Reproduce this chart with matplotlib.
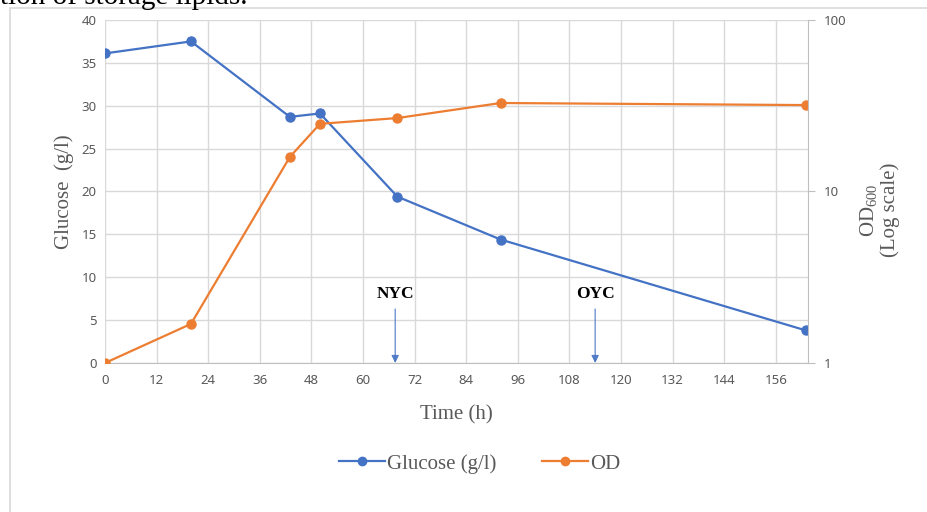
import matplotlib.pyplot as plt
from matplotlib.patches import Rectangle
from matplotlib.lines import Line2D

# data
time_h = [0, 20, 43, 50, 68, 92, 163]
glucose = [36.1, 37.5, 28.7, 29.1, 19.4, 14.4, 3.8]
od600 = [1.0, 1.69, 15.9, 24.8, 26.8, 32.8, 31.9]
x_ticks = list(range(0, 157, 12))
y_ticks = [0, 5, 10, 15, 20, 25, 30, 35, 40]
od_ticks = [1, 10, 100]
events = ["NYC", "OYC"]
event_times = [67.5, 114]

BLUE = '#4472C4'
ORANGE = '#ED7D31'
GRID = '#D9D9D9'
TICK_GRAY = '#595959'
SERIF = 'Liberation Serif'
SANS = 'Noto Sans'

plt.rcParams['mathtext.fontset'] = 'custom'
plt.rcParams['mathtext.rm'] = SERIF
plt.rcParams['mathtext.it'] = SERIF + ':italic'


def setup_axes(fig):
    '''Builds the glucose axes and the log-scale OD twin.'''
    ax = fig.add_axes([0.1131, 0.291, 0.7576, 0.670])
    ax.set_xlim(0, 163.5)
    ax.set_ylim(0, 40)
    ax.set_xticks(x_ticks)
    ax.set_xticks(range(6, 164, 12), minor=True)
    ax.set_yticks(y_ticks)
    ax.grid(True, which='major', color=GRID, lw=1.0)
    ax.grid(True, which='minor', axis='x', color='#E8E8E8', lw=0.9)
    ax.set_axisbelow(True)
    ax.tick_params(axis='both', which='both', length=0, colors=TICK_GRAY,
                   labelsize=9.5, pad=6)
    ax.tick_params(axis='x', pad=8)
    for lbl in ax.get_xticklabels() + ax.get_yticklabels():
        lbl.set_fontfamily(SANS)
    for side in ['top', 'left']:
        ax.spines[side].set_visible(False)
    ax.spines['bottom'].set_color('#BFBFBF')
    ax.spines['right'].set_visible(False)

    ax2 = ax.twinx()
    ax2.set_yscale('log')
    ax2.set_ylim(1, 100)
    ax2.set_yticks(od_ticks)
    ax2.set_yticklabels([str(t) for t in od_ticks])
    ax2.minorticks_off()
    ax2.tick_params(axis='y', length=5, color='#BFBFBF', colors=TICK_GRAY,
                    labelsize=9.5, pad=6)
    for lbl in ax2.get_yticklabels():
        lbl.set_fontfamily(SANS)
    for side in ['top', 'left', 'bottom']:
        ax2.spines[side].set_visible(False)
    ax2.spines['right'].set_color('#BFBFBF')
    return ax, ax2


fig = plt.figure(figsize=(9.28, 5.12), dpi=100)

# frame of the embedded chart and the cut-off caption above it
fig.patches.append(Rectangle((10 / 928, -0.1), 1.0, 0.1 + (512 - 8) / 512,
                             transform=fig.transFigure, fill=False,
                             edgecolor=GRID, lw=1.2))
fig.text(0.0, 1 - 4 / 512, 'tion of storage lipids.', family=SERIF,
         fontsize=21, va='baseline', ha='left', color='black')

ax, ax2 = setup_axes(fig)

ax.plot(time_h, glucose, color=BLUE, lw=1.6, marker='o', ms=6.5)
ax2.plot(time_h, od600, color=ORANGE, lw=1.6, marker='o', ms=6.5)

# event arrows
for name, t in zip(events, event_times):
    ax.annotate('', xy=(t, 0), xytext=(t, 6.3),
                arrowprops=dict(arrowstyle='-|>', color=BLUE, lw=0.9,
                                mutation_scale=11, shrinkA=0, shrinkB=0,
                                alpha=0.85))
    ax.text(t, 8.0, name, family=SERIF, fontweight='bold', fontsize=12.5,
            ha='center', va='center', color='black')

ax.set_xlabel('Time (h)', family=SERIF, fontsize=15, color=TICK_GRAY,
              labelpad=13)
ax.set_ylabel('Glucose  (g/l)', family=SERIF, fontsize=15, color=TICK_GRAY,
              labelpad=5)
fig.text(0.947, 0.59, 'OD$_{600}$\n(Log scale)', family=SERIF, fontsize=15,
         color=TICK_GRAY, rotation=90, ha='center', va='center',
         linespacing=1.1)

handles = [Line2D([], [], color=BLUE, lw=1.6, marker='o', ms=6),
           Line2D([], [], color=ORANGE, lw=1.6, marker='o', ms=6)]
fig.legend(handles, ['Glucose (g/l)', 'OD'], loc='center',
           bbox_to_anchor=(0.517, 0.094), ncol=2, frameon=False,
           prop={'family': SERIF, 'size': 15}, labelcolor=TICK_GRAY,
           handlelength=2.2, handletextpad=0.1, columnspacing=2.2)

plt.savefig('out.png', dpi=100)
plt.close()
